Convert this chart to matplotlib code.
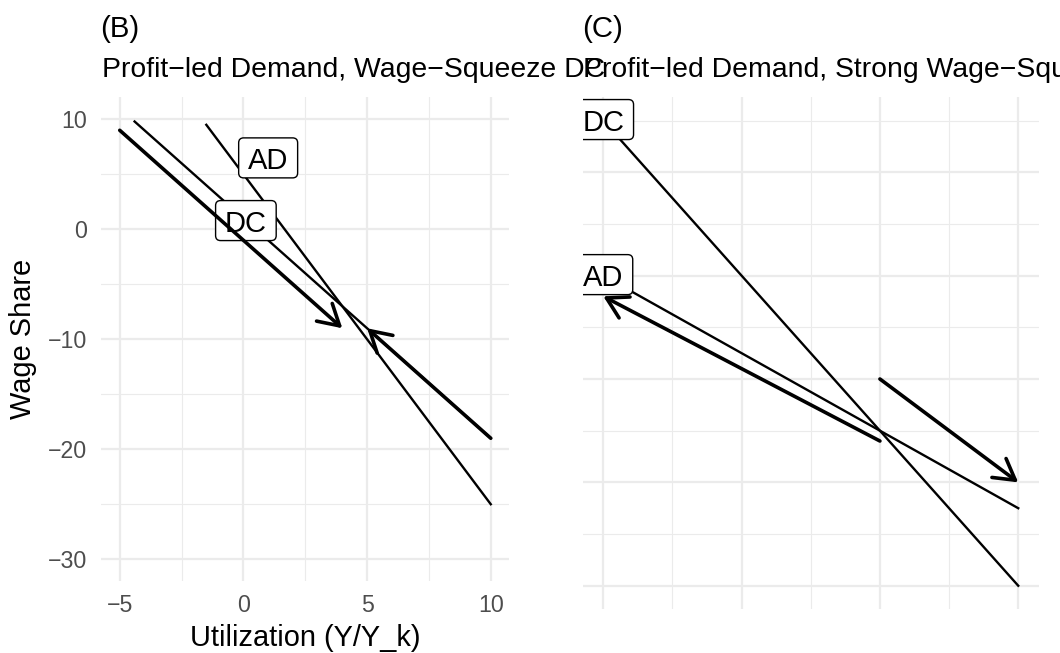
import matplotlib
matplotlib.use("Agg")
import matplotlib.pyplot as plt
from matplotlib.patches import ArrowStyle, FancyArrowPatch, FancyBboxPatch
from matplotlib.transforms import IdentityTransform

plt.rcParams["font.family"] = ["Liberation Sans", "DejaVu Sans"]

W, H = 1060, 653

# (B) profit-led demand, wage-squeeze distribution curve
b_ad_x = [-1.5, 10]
b_ad_y = [9.5, -25]
b_dc_x = [-4.4, 10]
b_dc_y = [9.8, -19]
b_arrow_from = [(-5, 9), (10, -19)]
b_arrow_to = [(4, -9), (5, -9)]
b_labels = ["AD", "DC"]
b_label_x = [1.0, 0.1]
b_label_y = [6.4, 0.7]

# (C) profit-led demand, strong wage-squeeze distribution curve
c_ad_x = [-5, 10]
c_ad_y = [20, -25]
c_dc_x = [-5, 10]
c_dc_y = [50, -40]
c_arrow_from = [(5, -12), (5, 0)]
c_arrow_to = [(-5, 16), (10, -20)]
c_labels = ["AD", "DC"]
c_label_x = [-5, -5]
c_label_y = [20, 50]

x_breaks = [-5, 0, 5, 10]
x_minor = [-2.5, 2.5, 7.5]
b_y_breaks = [-30, -20, -10, 0, 10]
b_y_minor = [-25, -15, -5, 5]
c_y_breaks = [-40, -20, 0, 20, 40]
c_y_minor = [-30, -10, 10, 30, 50]

GRID = "#EBEBEB"
LABEL_FS = 21
TICK_FS = 16.7
THIN = 1.7
THICK = 2.6


def px_axes(fig, left, top, right, bottom):
    return fig.add_axes([left / W, 1 - bottom / H, (right - left) / W, (bottom - top) / H])


def style(ax, xlim, ylim, ybreaks, yminor, show_ticks):
    ax.set_xlim(*xlim)
    ax.set_ylim(*ylim)
    ax.set_xticks(x_breaks)
    ax.set_xticks(x_minor, minor=True)
    ax.set_yticks(ybreaks)
    ax.set_yticks(yminor, minor=True)
    ax.grid(which="major", color=GRID, lw=1.6)
    ax.grid(which="minor", color=GRID, lw=0.8)
    ax.set_axisbelow(True)
    for s in ax.spines.values():
        s.set_visible(False)
    ax.tick_params(which="both", length=0, labelsize=TICK_FS, labelcolor="#4D4D4D")
    ax.tick_params(axis="y", pad=10.5)
    ax.tick_params(axis="x", pad=9.5)
    if not show_ticks:
        ax.set_xticklabels([])
        ax.set_yticklabels([])


def draw_label(ax, x, y, s, renderer):
    t = ax.annotate(s, (x, y), xytext=(0, -7.5), textcoords="offset points",
                    ha="center", va="baseline", fontsize=LABEL_FS, zorder=4,
                    annotation_clip=False)
    t.set_clip_on(True)
    tw = t.get_window_extent(renderer=renderer).width
    cx, cy = ax.transData.transform((x, y))
    bw, bh = tw + 18.6, 40
    box = FancyBboxPatch((cx - bw / 2, cy + 1 - bh / 2), bw, bh,
                         boxstyle="round,pad=0,rounding_size=5",
                         transform=IdentityTransform(), facecolor="white",
                         edgecolor="black", lw=1.0, zorder=3)
    ax.add_patch(box)
    box.set_clip_path(ax.patch)


def draw_arrow(ax, start, end):
    ax.add_patch(FancyArrowPatch(start, end,
                                 arrowstyle=ArrowStyle("->", head_length=14.7, head_width=8.5),
                                 mutation_scale=1, lw=THICK, color="black",
                                 shrinkA=0, shrinkB=0, zorder=5))


fig = plt.figure(figsize=(W / 100, H / 100), dpi=100)
renderer = fig.canvas.get_renderer()

ax_b = px_axes(fig, 101.2, 97.3, 509.3, 581.2)
style(ax_b, (-5.75, 10.75), (-32, 12), b_y_breaks, b_y_minor, True)
ax_b.plot(b_ad_x, b_ad_y, color="black", lw=THIN, zorder=2)
ax_b.plot(b_dc_x, b_dc_y, color="black", lw=THIN, zorder=2)
for s, x, y in zip(b_labels, b_label_x, b_label_y):
    draw_label(ax_b, x, y, s, renderer)
for a, b in zip(b_arrow_from, b_arrow_to):
    draw_arrow(ax_b, a, b)

ax_c = px_axes(fig, 582.5, 97.3, 1039, 609)
style(ax_c, (-5.75, 10.75), (-44.5, 54.5), c_y_breaks, c_y_minor, False)
ax_c.plot(c_ad_x, c_ad_y, color="black", lw=THIN, zorder=2)
ax_c.plot(c_dc_x, c_dc_y, color="black", lw=THIN, zorder=2)
for s, x, y in zip(c_labels, c_label_x, c_label_y):
    draw_label(ax_c, x, y, s, renderer)
for a, b in zip(c_arrow_from, c_arrow_to):
    draw_arrow(ax_c, a, b)

# titles and subtitles
fig.text(100 / W, 1 - 37.3 / H, "(B)", fontsize=21.2, va="baseline", ha="left")
fig.text(101.5 / W, 1 - 76.7 / H, "Profit\u2212led Demand, Wage\u2212Squeeze DC",
         fontsize=20.4, va="baseline", ha="left")
fig.text(581.7 / W, 1 - 37.3 / H, "(C)", fontsize=21.2, va="baseline", ha="left")
fig.text(583 / W, 1 - 76.7 / H, "Profit\u2212led Demand, Strong Wage\u2212Squeeze DC",
         fontsize=20.4, va="baseline", ha="left")

fig.text(305.3 / W, 1 - 646 / H, "Utilization (Y/Y_k)", fontsize=20.9,
         ha="center", va="baseline")
fig.text(23 / W, 1 - 339.2 / H, "Wage Share", fontsize=20.9, rotation=90,
         ha="center", va="center")

fig.savefig("out.png", dpi=100, facecolor="white")
